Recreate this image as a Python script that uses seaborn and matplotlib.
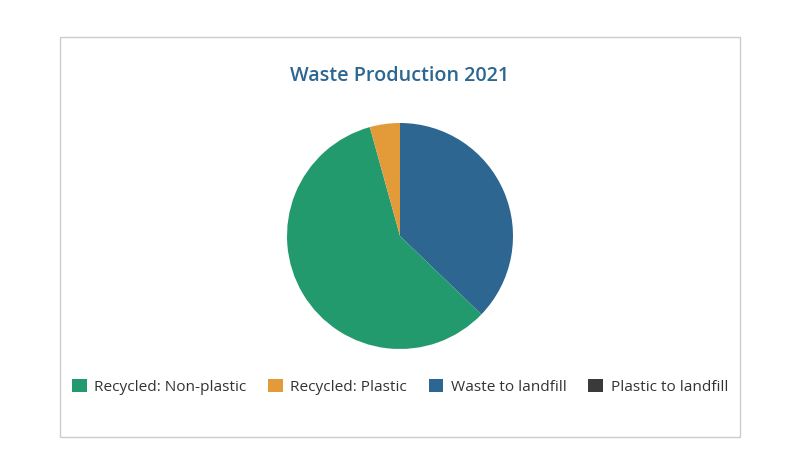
import matplotlib
matplotlib.use('Agg')
import matplotlib.pyplot as plt
from matplotlib.patches import Rectangle, Patch
import seaborn as sns

# data (share of total)
categories = ['Recycled: Non-plastic', 'Recycled: Plastic', 'Waste to landfill', 'Plastic to landfill']
shares = [58.5, 4.3, 37.2, 0.0]
colors = ['#239a6e', '#e39b3a', '#2c6691', '#3a3a3a']

sns.set_style('white')
plt.rcParams['font.family'] = ['Open Sans', 'DejaVu Sans']

W, H = 800, 474
fig = plt.figure(figsize=(W / 100, H / 100), dpi=100)

# light frame around the card
fig.patches.append(Rectangle((60 / W, 1 - 437 / H), 680 / W, 400 / H,
                             transform=fig.transFigure, fill=False,
                             edgecolor='#cccccc', linewidth=1))

# pie axes: centre (400, 236), radius 113 px
cx, cy, r = 400, 236, 113
ax = fig.add_axes([(cx - r) / W, 1 - (cy + r) / H, 2 * r / W, 2 * r / H])
# clockwise from 12 o'clock: landfill, non-plastic, plastic
order = [2, 0, 1, 3]
ax.pie([shares[i] for i in order], colors=[colors[i] for i in order],
       startangle=90, counterclock=False, radius=1, wedgeprops=dict(linewidth=0))
ax.set_xlim(-1, 1)
ax.set_ylim(-1, 1)
ax.set_aspect('equal')
ax.axis('off')

fig.text(cx / W, 1 - 76 / H, 'Waste Production 2021', ha='center', va='center',
         fontsize=14.2, fontweight='semibold', color='#2c6691')

handles = [Patch(facecolor=c, edgecolor='none') for c in colors]
fig.legend(handles, categories, loc='center', bbox_to_anchor=(400 / W, 1 - 387 / H),
           ncol=4, frameon=False, fontsize=11.1, handlelength=0.95, handleheight=0.95,
           handletextpad=0.5, columnspacing=1.4, labelcolor='#333333')

plt.savefig('out.png', dpi=100)
